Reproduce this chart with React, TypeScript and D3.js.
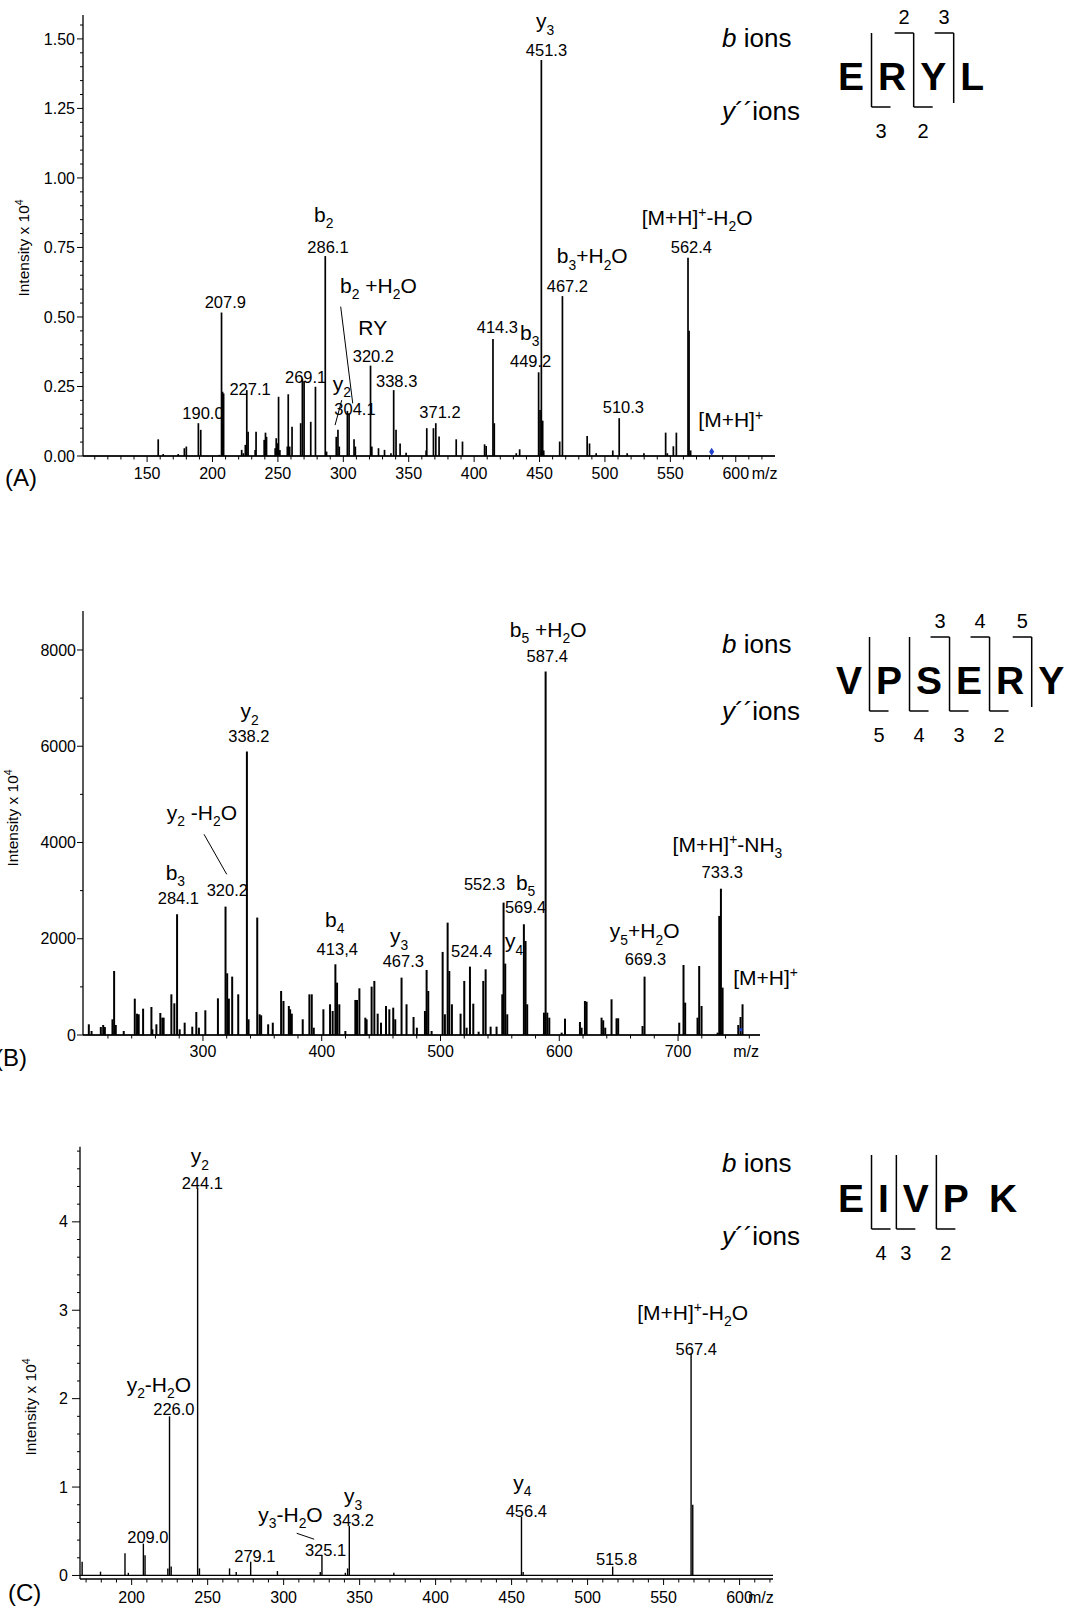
import React from 'react';
import * as d3 from 'd3';

const FONT = "'Liberation Sans', Arial, Helvetica, sans-serif";

// ---------------- Panel A data (ERYL) ----------------
const mzA = [158.5, 162.3, 173.8, 178.5, 180, 189.2, 191, 205.1, 206.9, 207.7, 208.5, 222.3, 223.6, 225.1, 226.2, 227.2, 232.6, 233.3, 239.5, 240.5, 241.3, 247.9, 248.7, 249.5, 250.5, 251.5, 257.2, 257.9, 259, 260.8, 267.4, 268.7, 270, 275.1, 278.7, 286.2, 287.2, 294.6, 295.9, 296.9, 303.1, 304.4, 308.2, 309.2, 320.8, 321.8, 326.9, 331.5, 336.4, 338.5, 340.3, 343.4, 348, 363.3, 363.8, 368.9, 370.7, 373.2, 386.3, 391.1, 408, 409.2, 414.4, 415.4, 432.2, 434.8, 449.3, 450.4, 451.4, 452.4, 453.2, 465.4, 467.5, 486.4, 488.2, 493.3, 506, 510.9, 517, 529.8, 546.4, 547.7, 552.3, 554.6, 563.5, 564.3, 565.5];
const intA = [0.06, 0.007, 0.007, 0.028, 0.034, 0.118, 0.094, 0.004, 0.516, 0.231, 0.225, 0.022, 0.01, 0.04, 0.237, 0.087, 0.022, 0.087, 0.058, 0.084, 0.069, 0.028, 0.064, 0.046, 0.213, 0.022, 0.034, 0.222, 0.034, 0.105, 0.118, 0.279, 0.27, 0.123, 0.249, 0.719, 0.016, 0.069, 0.094, 0.034, 0.162, 0.154, 0.06, 0.034, 0.325, 0.034, 0.028, 0.022, 0.01, 0.237, 0.094, 0.045, 0.012, 0.02, 0.1, 0.1, 0.118, 0.07, 0.06, 0.052, 0.042, 0.036, 0.421, 0.118, 0.01, 0.024, 0.301, 0.165, 1.424, 0.127, 0.02, 0.052, 0.575, 0.072, 0.045, 0.01, 0.02, 0.136, 0.01, 0.01, 0.084, 0.01, 0.035, 0.084, 0.713, 0.45, 0.02];
const precursorA = [581.6, 0.015];
const labelsA: [string, number, number, string][] = [
  ['b_2', 277.6, 0.842, 'i'], ['286.1', 272.5, 0.729, 'n'], ['207.9', 194, 0.532, 'n'],
  ['b_2 +H_2O', 297.5, 0.586, 'i'], ['RY', 311.5, 0.435, 'i'], ['320.2', 307.2, 0.339, 'n'],
  ['269.1', 255.4, 0.261, 'n'], ['227.1', 212.9, 0.219, 'n'], ['190.0', 176.9, 0.132, 'n'],
  ['y_2', 291.9, 0.235, 'i'], ['304.1', 293.1, 0.147, 'n'], ['338.3', 325, 0.249, 'n'],
  ['y_3', 447.3, 1.538, 'i'], ['451.3', 439.5, 1.439, 'n'], ['371.2', 358.1, 0.136, 'n'],
  ['414.3', 402, 0.441, 'n'], ['b_3', 435.1, 0.417, 'i'], ['449.2', 427.4, 0.321, 'n'],
  ['b_3+H_2O', 463.2, 0.693, 'i'], ['467.2', 455.5, 0.591, 'n'],
  ['[M+H]^+-H_2O', 528.1, 0.831, 'i'], ['562.4', 550.3, 0.729, 'n'],
  ['510.3', 498.3, 0.154, 'n'], ['[M+H]^+', 571.4, 0.103, 'i'],
];
const leadersA = [[298, 0.537, 307.2, 0.189], [298.8, 0.201, 293.7, 0.111]];
const yTicksA = [0, 0.25, 0.5, 0.75, 1.0, 1.25, 1.5];
const xTicksA = [150, 200, 250, 300, 350, 400, 450, 500, 550, 600];

// ---------------- Panel B data (VPSERY) ----------------
const mzB = [203.9, 206.2, 214, 216, 217.4, 223.8, 225.2, 226.6, 233.3, 242.6, 244.5, 245.9, 249.6, 256.6, 257.4, 260.8, 264.1, 265.8, 266.9, 273.4, 275.9, 278.2, 280.4, 284.6, 291, 294.4, 296.6, 302, 312.6, 319, 320.4, 321.8, 324.6, 329.7, 337, 338.4, 345.7, 347.7, 349, 354.9, 358.8, 365.8, 367.8, 372.3, 373.4, 374.8, 384, 389.6, 391.6, 393.3, 401.4, 407, 409.2, 411.5, 412.9, 414.8, 419.9, 428.3, 429.7, 431.7, 436.7, 437.8, 442, 444.3, 447.1, 449.9, 454.1, 456.9, 460.2, 461.9, 467.2, 471.4, 477.3, 480.1, 486.9, 488.3, 489.7, 492.5, 501.8, 503.7, 506, 507.4, 509.6, 516.9, 520, 522, 524.8, 527.6, 532.1, 536, 538, 542.2, 547.2, 552, 553.1, 554.5, 556.2, 570.2, 571.6, 573, 587.1, 588.5, 589.9, 591.6, 602, 604.8, 617.4, 618.8, 621.6, 623, 635.6, 637, 638.7, 644, 648.2, 649.6, 670.1, 671.8, 701, 704.6, 706, 716.4, 717.8, 719.8, 733.3, 734.7, 736.1, 737.5, 750.7, 752.6, 754.3];
const intB = [222, 83, 166, 208, 166, 326, 1330, 208, 83, 755, 443, 430, 547, 582, 118, 222, 457, 360, 360, 845, 658, 2509, 118, 256, 173, 478, 152, 513, 762, 2668, 1282, 755, 1213, 845, 5890, 326, 2440, 430, 409, 222, 256, 915, 707, 603, 534, 443, 326, 845, 845, 152, 534, 638, 499, 1469, 1088, 638, 83, 728, 728, 970, 360, 326, 1005, 1123, 443, 256, 603, 534, 568, 326, 1192, 638, 374, 152, 499, 1351, 915, 83, 1726, 430, 2335, 1330, 638, 443, 1123, 152, 1421, 651, 69, 1123, 1365, 173, 173, 845, 2751, 1483, 430, 2301, 1954, 638, 464, 7553, 464, 360, 49, 340, 270, 152, 707, 693, 360, 305, 152, 742, 347, 347, 187, 1213, 256, 1455, 672, 360, 1434, 603, 49, 2474, 3040, 984, 208, 374, 638];
const precursorB = [752.9, 110];
const labelsB: [string, number, number, string][] = [
  ['b_5 +H_2O', 558.4, 8275, 'i'], ['587.4', 572.5, 7756, 'n'],
  ['[M+H]^+-NH_3', 695.4, 3808, 'i'], ['733.3', 719.8, 3256, 'n'],
  ['552.3', 519.7, 3013, 'n'], ['b_5', 563.5, 3013, 'i'], ['569.4', 554.2, 2529, 'n'],
  ['y_4', 554.2, 1801, 'i'], ['y_5+H_2O', 642.6, 2009, 'i'], ['669.3', 655.2, 1454, 'n'],
  ['524.4', 508.8, 1627, 'n'], ['y_3', 457.4, 1905, 'i'], ['467.3', 451.3, 1419, 'n'],
  ['[M+H]^+', 746.4, 1039, 'i'], ['y_2', 331.7, 6580, 'i'], ['338.2', 321.3, 6094, 'n'],
  ['y_2 -H_2O', 269.5, 4467, 'i'], ['b_3', 268.6, 3220, 'i'], ['284.1', 261.9, 2722, 'n'],
  ['320.2', 303.1, 2888, 'n'], ['b_4', 402.7, 2250, 'i'], ['413,4', 395.7, 1662, 'n'],
];
const leadersB = [[300.9, 4170, 320, 3339]];
const yTicksB = [0, 2000, 4000, 6000, 8000];
const xTicksB = [300, 400, 500, 600, 700];

// ---------------- Panel C data (EIVPK) ----------------
const mzC = [167.4, 179.5, 195.6, 197.8, 207.7, 208.8, 223.8, 224.9, 226.0, 243.4, 244.6, 264.4, 268.8, 278.3, 295.9, 324.1, 325.2, 340.6, 342.1, 343.2, 372.5, 456.5, 457.6, 516.5, 568.1, 569.2];
const intC = [0.156, 0.043, 0.25, 0.03, 0.36, 0.23, 0.08, 1.8, 0.1, 4.38, 0.08, 0.08, 0.04, 0.156, 0.05, 0.04, 0.23, 0.03, 0.08, 0.56, 0.03, 0.665, 0.04, 0.1, 2.51, 0.8];
const labelsC: [string, number, number, string][] = [
  ['y_2', 238.8, 4.663, 'i'], ['244.1', 232.9, 4.369, 'n'],
  ['y_2-H_2O', 196.7, 2.079, 'i'], ['226.0', 214.2, 1.816, 'n'],
  ['209.0', 197.1, 0.371, 'n'], ['279.1', 267.5, 0.156, 'n'],
  ['y_3-H_2O', 283.3, 0.609, 'i'], ['325.1', 314, 0.221, 'n'],
  ['y_3', 339.7, 0.817, 'i'], ['343.2', 332.3, 0.56, 'n'],
  ['y_4', 451.1, 0.967, 'i'], ['456.4', 446.1, 0.665, 'n'], ['515.8', 505.5, 0.119, 'n'],
  ['[M+H]^+-H_2O', 532.6, 2.89, 'i'], ['567.4', 557.9, 2.494, 'n'],
];
const leadersC = [[308.6, 0.477, 320.1, 0.41]];
const yTicksC = [0, 1, 2, 3, 4];
const xTicksC = [200, 250, 300, 350, 400, 450, 500, 550, 600];

// sequences
const seqA = ['E', 'R', 'Y', 'L'];
const bCutsA = [2, 3];
const yCutsA = [1, 2];
const seqB = ['V', 'P', 'S', 'E', 'R', 'Y'];
const bCutsB = [3, 4, 5];
const yCutsB = [1, 2, 3, 4];
const seqC = ['E', 'I', 'V', 'P', 'K'];
const bCutsC: number[] = [];
const yCutsC = [1, 2, 3];

const ION_FS = 21;
const NUM_FS = 16.5;
const TICK_FS = 16;

function Rich({ x, y, text, fs, anchor = 'start' }: any) {
  const parts: { t: string; k: string }[] = [];
  let i = 0;
  while (i < text.length) {
    const c = text[i];
    if (c === '_' || c === '^') {
      parts.push({ t: text[i + 1], k: c === '_' ? 'sub' : 'sup' });
      i += 2;
    } else {
      let s = '';
      while (i < text.length && text[i] !== '_' && text[i] !== '^') { s += text[i]; i++; }
      parts.push({ t: s, k: 'n' });
    }
  }
  let cur = 0;
  return (
    <text x={x} y={y} fontSize={fs} textAnchor={anchor} style={{ whiteSpace: 'pre' }}>
      {parts.map((p, k) => {
        const target = p.k === 'sub' ? 0.3 * fs : p.k === 'sup' ? -0.36 * fs : 0;
        const dy = target - cur;
        cur = target;
        return <tspan key={k} dy={dy} fontSize={p.k === 'n' ? fs : fs * 0.66}>{p.t}</tspan>;
      })}
    </text>
  );
}

function range(a: number, b: number, s: number) {
  const out: number[] = [];
  for (let v = a; v <= b + 1e-9; v += s) out.push(+v.toFixed(6));
  return out;
}

function Panel(p: any) {
  const x = d3.scaleLinear().domain(p.xDomain).range(p.xRange);
  const y = d3.scaleLinear().domain(p.yDomain).range(p.yRange);
  const axisY = y(p.axisV);
  const x0 = p.xRange[0], x1 = p.xRange[1];
  const yTop = p.yRange[1];
  const xMinor = range(p.xMinor[0], p.xMinor[1], p.xMinor[2]).filter(v => p.xTicks.indexOf(v) < 0);
  const yMinor = range(p.yMinor[0], p.yMinor[1], p.yMinor[2]).filter(v => !p.yTicks.some((t: number) => Math.abs(t - v) < 1e-6));
  return (
    <g>
      <line x1={x0} x2={x1} y1={y(0)} y2={y(0)} stroke="#000" strokeWidth={1.2} />
      {p.mz.map((m: number, i: number) => (
        <line key={i} x1={x(m)} x2={x(m)} y1={y(0)} y2={y(p.int[i])} stroke="#000" strokeWidth={p.sw} />
      ))}
      <line x1={x0} x2={x1} y1={axisY} y2={axisY} stroke="#000" strokeWidth={1.3} />
      <line x1={x0} x2={x0} y1={axisY} y2={yTop} stroke="#000" strokeWidth={1.3} />
      {p.xTicks.map((t: number) => (
        <g key={'xt' + t}>
          <line x1={x(t)} x2={x(t)} y1={axisY} y2={axisY + 6} stroke="#000" strokeWidth={1} />
          <text x={x(t)} y={axisY + p.xLabDy} fontSize={TICK_FS} textAnchor="middle">{t}</text>
        </g>
      ))}
      {xMinor.map((t: number) => (
        <line key={'xm' + t} x1={x(t)} x2={x(t)} y1={axisY} y2={axisY + 3.5} stroke="#000" strokeWidth={1} />
      ))}
      {p.yTicks.map((t: number) => (
        <g key={'yt' + t}>
          <line x1={x0 - p.yTickLen} x2={x0} y1={y(t)} y2={y(t)} stroke="#000" strokeWidth={1} />
          <text x={x0 - p.yLabGap} y={y(t)} dy="0.35em" fontSize={TICK_FS} textAnchor="end">{p.yFmt(t)}</text>
        </g>
      ))}
      {yMinor.map((t: number) => (
        <line key={'ym' + t} x1={x0 - 3} x2={x0} y1={y(t)} y2={y(t)} stroke="#000" strokeWidth={1} />
      ))}
      <text x={x(p.mzLabelAt)} y={axisY + p.xLabDy} fontSize={TICK_FS}>m/z</text>
      <text transform={`translate(${p.titlePos[0]},${p.titlePos[1]}) rotate(-90)`} fontSize={15.5} textAnchor="middle">
        Intensity x 10<tspan dy={-6} fontSize={10.5}>4</tspan>
      </text>
      <text x={p.letterPos[0]} y={p.letterPos[1]} fontSize={24}>{p.letter}</text>
      {p.leaders.map((l: number[], i: number) => (
        <line key={'ld' + i} x1={x(l[0])} y1={y(l[1])} x2={x(l[2])} y2={y(l[3])} stroke="#000" strokeWidth={1} />
      ))}
      {p.labels.map((l: any, i: number) => (
        <Rich key={'lb' + i} x={x(l[1])} y={y(l[2])} text={l[0]} fs={l[3] === 'i' ? ION_FS : NUM_FS} />
      ))}
      {p.precursor && p.precursorShape === 'diamond' && (
        <path d={`M${x(p.precursor[0])},${y(p.precursor[1]) - 4} l2.5,4 l-2.5,4 l-2.5,-4 z`} fill="#1f3fcc" />
      )}
      {p.precursor && p.precursorShape === 'dot' && (
        <rect x={x(p.precursor[0]) - 1.5} y={y(p.precursor[1]) - 1.5} width={3} height={3} fill="#1f3fcc" />
      )}
    </g>
  );
}

const LETTER_W: Record<string, number> = { E: 0.667, R: 0.722, Y: 0.667, L: 0.611, V: 0.667, P: 0.667, S: 0.667, I: 0.278, K: 0.722 };

function Sequence({ residues, bCuts, yCuts, x0, base, bLegY, yLegY }: any) {
  const fs = 39;
  const n = residues.length;
  let cx = x0;
  const letters: { r: string; x: number }[] = [];
  const seps: { x: number; k: number; hasB: boolean; hasY: boolean }[] = [];
  residues.forEach((r: string, i: number) => {
    letters.push({ r, x: cx });
    cx += LETTER_W[r] * fs;
    const k = i + 1;
    if (k < n) {
      const hasB = bCuts.includes(k);
      const hasY = yCuts.includes(k);
      if (hasB || hasY) {
        cx += 7.5;
        seps.push({ x: cx, k, hasB, hasY });
        cx += 6.5;
      } else cx += 20;
    }
  });
  const top = base - 57;
  return (
    <g>
      <text x={722} y={bLegY} fontSize={26}><tspan fontStyle="italic">b</tspan> ions</text>
      <text x={722} y={yLegY} fontSize={26}><tspan fontStyle="italic">y</tspan>´´ions</text>
      {letters.map((l, i) => (
        <text key={i} x={l.x} y={base} fontSize={fs} fontWeight="bold">{l.r}</text>
      ))}
      {seps.map((s, i) => {
        const bottom = s.hasY ? base + 17 : base + 13;
        return (
          <g key={i} stroke="#000" strokeWidth={1.5} fill="none">
            <line x1={s.x} x2={s.x} y1={top} y2={bottom} />
            {s.hasB && <line x1={s.x - 19} x2={s.x} y1={top} y2={top} />}
            {s.hasY && <line x1={s.x} x2={s.x + 19} y1={bottom} y2={bottom} />}
            {s.hasB && <text x={s.x - 9.5} y={base - 66} fontSize={20} textAnchor="middle" stroke="none" fill="#000">{s.k}</text>}
            {s.hasY && <text x={s.x + 9.5} y={base + 48} fontSize={20} textAnchor="middle" stroke="none" fill="#000">{n - s.k}</text>}
          </g>
        );
      })}
    </g>
  );
}

export default function App() {
  return (
    <svg width={1074} height={1610} style={{ position: 'absolute', left: 0, top: 0, background: '#fff' }} fontFamily={FONT}>
      <rect width={1074} height={1610} fill="#fff" />
      <Panel
        xDomain={[101, 630]} xRange={[83, 775]} yDomain={[0, 1.586]} yRange={[456, 15]} axisV={0}
        mz={mzA} int={intA} sw={1.7}
        xTicks={xTicksA} xMinor={[110, 620, 10]} xLabDy={23} mzLabelAt={612.2}
        yTicks={yTicksA} yMinor={[0, 1.55, 0.05]} yFmt={(v: number) => v.toFixed(2)} yTickLen={6} yLabGap={8}
        titlePos={[29, 248]} letter="(A)" letterPos={[5, 486]}
        labels={labelsA} leaders={leadersA} precursor={precursorA} precursorShape="diamond"
      />
      <Sequence residues={seqA} bCuts={bCutsA} yCuts={yCutsA} x0={838} base={90} bLegY={47} yLegY={120} />

      <Panel
        xDomain={[199, 769]} xRange={[83, 760]} yDomain={[0, 8810]} yRange={[1035, 611]} axisV={0}
        mz={mzB} int={intB} sw={2}
        xTicks={xTicksB} xMinor={[220, 760, 20]} xLabDy={22} mzLabelAt={746.4}
        yTicks={yTicksB} yMinor={[0, 8000, 1000]} yFmt={(v: number) => String(v)} yTickLen={6} yLabGap={7}
        titlePos={[18, 818]} letter="(B)" letterPos={[-5, 1066]}
        labels={labelsB} leaders={leadersB} precursor={precursorB} precursorShape="dot"
      />
      <Sequence residues={seqB} bCuts={bCutsB} yCuts={yCutsB} x0={836} base={694} bLegY={653} yLegY={720} />

      <Panel
        xDomain={[166, 622]} xRange={[80, 773]} yDomain={[-0.04, 4.85]} yRange={[1579, 1146.7]} axisV={-0.04}
        mz={mzC} int={intC} sw={1.4}
        xTicks={xTicksC} xMinor={[170, 620, 10]} xLabDy={24} mzLabelAt={605.5}
        yTicks={yTicksC} yMinor={[0, 4.8, 0.2]} yFmt={(v: number) => String(v)} yTickLen={8} yLabGap={12}
        titlePos={[36, 1407]} letter="(C)" letterPos={[8, 1601]}
        labels={labelsC} leaders={leadersC} precursor={null} precursorShape="none"
      />
      <Sequence residues={seqC} bCuts={bCutsC} yCuts={yCutsC} x0={838} base={1212} bLegY={1172} yLegY={1245} />
    </svg>
  );
}
